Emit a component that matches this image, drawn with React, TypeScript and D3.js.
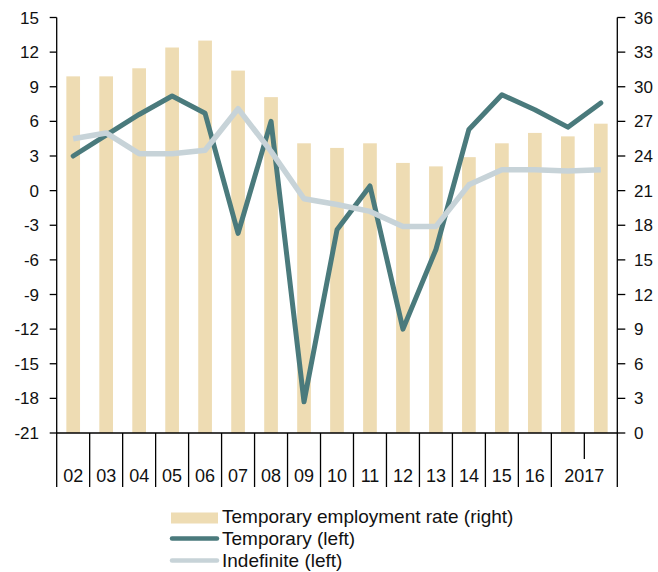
import React from "react";
import * as d3 from "d3";

// Periods: annual 2002-2016, then two observations in 2017
const periods = ["2002","2003","2004","2005","2006","2007","2008","2009","2010","2011","2012","2013","2014","2015","2016","2017a","2017b"];
const yearGroups = [
  { label: "02", span: 1 }, { label: "03", span: 1 }, { label: "04", span: 1 }, { label: "05", span: 1 },
  { label: "06", span: 1 }, { label: "07", span: 1 }, { label: "08", span: 1 }, { label: "09", span: 1 },
  { label: "10", span: 1 }, { label: "11", span: 1 }, { label: "12", span: 1 }, { label: "13", span: 1 },
  { label: "14", span: 1 }, { label: "15", span: 1 }, { label: "16", span: 1 }, { label: "2017", span: 2 },
];
// Temporary employment rate (right axis, %)
const rateRight = [30.9, 30.9, 31.6, 33.4, 34.0, 31.4, 29.1, 25.1, 24.7, 25.1, 23.4, 23.1, 23.9, 25.1, 26.0, 25.7, 26.8];
// Temporary (left axis)
const temporary = [3.0, 4.8, 6.6, 8.2, 6.7, -3.7, 6.0, -18.3, -3.4, 0.4, -12.0, -5.1, 5.3, 8.3, 7.0, 5.5, 7.6];
// Indefinite (left axis)
const indefinite = [4.5, 5.0, 3.2, 3.2, 3.5, 7.1, 3.4, -0.7, -1.2, -1.8, -3.1, -3.1, 0.5, 1.8, 1.8, 1.7, 1.8];
const leftTicks = [15, 12, 9, 6, 3, 0, -3, -6, -9, -12, -15, -18, -21];
const rightTicks = [36, 33, 30, 27, 24, 21, 18, 15, 12, 9, 6, 3, 0];

const BAR = "#EEDCB3";
const TEAL = "#4A7A7C";
const GREY = "#C7D3D8";
const FONT = "'Liberation Sans', Arial, sans-serif";

export default function App() {
  const W = 658, H = 572;
  const x0 = 56.7, x1 = 617.3, yTop = 17.5, yBot = 433;
  const xBand = d3.scaleBand<string>().domain(periods).range([x0, x1]).paddingInner(0.585).paddingOuter(0.2925);
  const step = xBand.step();
  const cx = (i: number) => (xBand(periods[i]) as number) + xBand.bandwidth() / 2;
  const yL = d3.scaleLinear().domain([-21, 15]).range([yBot, yTop]);
  const yR = d3.scaleLinear().domain([0, 36]).range([yBot, yTop]);
  const line = d3.line<number>().x((_, i) => cx(i)).y((d) => yL(d));
  const tickBottom = 487;

  // slot boundaries
  const boundaries: { x: number; short: boolean }[] = [];
  let idx = 0;
  boundaries.push({ x: x0, short: false });
  yearGroups.forEach((g) => {
    for (let k = 1; k < g.span; k++) boundaries.push({ x: x0 + (idx + k) * step, short: true });
    idx += g.span;
    boundaries.push({ x: x0 + idx * step, short: false });
  });
  let acc = 0;
  const labels = yearGroups.map((g) => {
    const c = x0 + (acc + g.span / 2) * step;
    acc += g.span;
    return { label: g.label, x: c };
  });

  return (
    <svg width={W} height={H} style={{ position: "absolute", left: 0, top: 0, background: "#fff" }} fontFamily={FONT}>
      {/* bars */}
      {rateRight.map((v, i) => (
        <rect key={i} x={xBand(periods[i])} y={yR(v)} width={xBand.bandwidth()} height={yR(0) - yR(v)} fill={BAR} />
      ))}
      {/* lines */}
      <path d={line(temporary) || ""} fill="none" stroke={TEAL} strokeWidth={5} strokeLinejoin="round" strokeLinecap="round" />
      <path d={line(indefinite) || ""} fill="none" stroke={GREY} strokeWidth={5.5} strokeLinejoin="round" strokeLinecap="butt" />

      {/* axes */}
      <line x1={x0} x2={x1} y1={yBot} y2={yBot} stroke="#000" strokeWidth={1.3} />
      <line x1={x0} x2={x0} y1={yTop} y2={yBot} stroke="#000" strokeWidth={1.3} />
      <line x1={x1} x2={x1} y1={yTop} y2={yBot} stroke="#000" strokeWidth={1.3} />
      {leftTicks.map((t) => (
        <g key={"l" + t}>
          <line x1={x0 - 7} x2={x0} y1={yL(t)} y2={yL(t)} stroke="#000" strokeWidth={1.3} />
          <text x={39} y={yL(t)} dy="0.36em" textAnchor="end" fontSize={17} fill="#111">{t}</text>
        </g>
      ))}
      {rightTicks.map((t) => (
        <g key={"r" + t}>
          <line x1={x1} x2={x1 + 8} y1={yR(t)} y2={yR(t)} stroke="#000" strokeWidth={1.3} />
          <text x={634} y={yR(t)} dy="0.36em" textAnchor="start" fontSize={17} fill="#111">{t}</text>
        </g>
      ))}
      {boundaries.map((b, i) => (
        <line key={"b" + i} x1={b.x} x2={b.x} y1={yBot} y2={b.short ? 459 : tickBottom} stroke="#000" strokeWidth={1.3} />
      ))}
      {labels.map((l) => (
        <text key={"x" + l.label} x={l.x} y={482} textAnchor="middle" fontSize={18} fill="#111">{l.label}</text>
      ))}

      {/* legend */}
      <rect x={171} y={512.5} width={47} height={11} fill={BAR} />
      <line x1={172} x2={217} y1={538.5} y2={538.5} stroke={TEAL} strokeWidth={4.5} strokeLinecap="round" />
      <line x1={172} x2={217} y1={560.5} y2={560.5} stroke={GREY} strokeWidth={4.5} strokeLinecap="round" />
      <text x={222} y={523} fontSize={19} fill="#111">Temporary employment rate (right)</text>
      <text x={222} y={545} fontSize={19} fill="#111">Temporary (left)</text>
      <text x={222} y={567} fontSize={19} fill="#111">Indefinite (left)</text>
    </svg>
  );
}
